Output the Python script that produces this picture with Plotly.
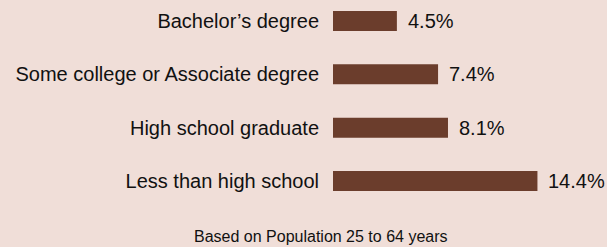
import plotly.graph_objects as go

categories = ["Less than high school", "High school graduate",
              "Some college or Associate degree", "Bachelor\u2019s degree"]
values = [14.4, 8.1, 7.4, 4.5]
value_labels = ["14.4%", "8.1%", "7.4%", "4.5%"]
footnote = "Based on Population 25 to 64 years"

FONT = "Liberation Sans, Arial, sans-serif"
BG = "#f0ded8"
BAR = "#6b3d2c"
TXT = "#111111"

ypos = list(range(len(categories)))

fig = go.Figure(go.Bar(
    x=values, y=ypos, orientation="h",
    marker=dict(color=BAR, line=dict(width=0)),
    width=0.375,
    hoverinfo="skip",
))

annotations = [
    dict(x=v, y=y, text=t, xref="x", yref="y", xanchor="left", yanchor="middle",
         xshift=9, showarrow=False, font=dict(family=FONT, size=20, color=TXT))
    for v, y, t in zip(values, ypos, value_labels)
]
annotations.append(dict(
    text=footnote, xref="paper", yref="paper",
    x=-0.042, y=-0.124, xanchor="center", yanchor="middle",
    showarrow=False, font=dict(family=FONT, size=16, color=TXT),
))

fig.update_layout(
    width=607, height=247,
    margin=dict(l=333, r=0, t=0, b=37, autoexpand=False),
    paper_bgcolor=BG, plot_bgcolor=BG,
    showlegend=False,
    font=dict(family=FONT, size=20, color=TXT),
    xaxis=dict(range=[0, 19.3], visible=False, fixedrange=True, automargin=False),
    yaxis=dict(
        range=[-0.544, 3.394], automargin=False,
        tickmode="array", tickvals=ypos, ticktext=categories,
        showgrid=False, zeroline=False, showline=False, ticks="",
        ticklabelstandoff=13,
        tickfont=dict(family=FONT, size=20, color=TXT),
        fixedrange=True,
    ),
    annotations=annotations,
)

fig.write_html(
    "out.html",
    config={"displayModeBar": False},
    post_script="document.body.style.margin='0';document.body.style.background='" + BG + "';",
)
